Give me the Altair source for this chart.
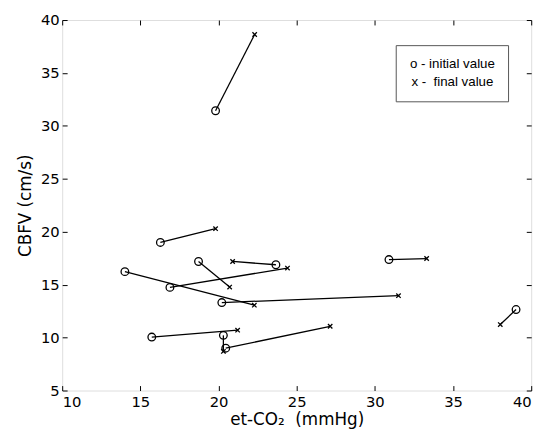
import altair as alt
import pandas as pd

# initial (o) and final (x) values for each subject
x_initial = [19.81, 16.28, 18.72, 23.67, 14.01, 16.89, 20.21, 15.73, 20.31, 20.46, 30.90, 39.03]
y_initial = [31.43, 18.99, 17.19, 16.88, 16.23, 14.74, 13.31, 10.05, 10.21, 9.00, 17.37, 12.65]
x_final = [22.31, 19.81, 20.71, 20.90, 22.29, 24.41, 31.51, 21.22, 20.31, 27.14, 33.31, 38.02]
y_final = [38.63, 20.29, 14.77, 17.19, 13.06, 16.57, 13.96, 10.70, 8.69, 11.07, 17.47, 11.23]

x_ticks = [10, 15, 20, 25, 30, 35, 40]
y_ticks = [5, 10, 15, 20, 25, 30, 35, 40]
legend_lines = ["o - initial value", "x -\u00a0\u00a0final value"]

df = pd.DataFrame({"x0": x_initial, "y0": y_initial, "x1": x_final, "y1": y_final})

FONT = "DejaVu Sans"
LFONT = "Liberation Sans"
W, H = 476, 376

xs = alt.Scale(domain=[10, 40], nice=False, zero=False)
ys = alt.Scale(domain=[5, 40], nice=False, zero=False)

main_x = alt.Axis(values=x_ticks, ticks=False, domain=False, grid=False, labelFont=FONT,
                  labelFontSize=15, labelColor="black", labelPadding=4, labelOverlap=False,
                  title="et-CO\u2082\u00a0\u00a0(mmHg)", titleFont=FONT, titleFontSize=17,
                  titleFontWeight="normal", titleColor="black", titlePadding=3)
main_y = alt.Axis(values=y_ticks, ticks=False, domain=False, grid=False, labelFont=FONT,
                  labelFontSize=15, labelColor="black", labelPadding=3, labelOverlap=False,
                  title="CBFV (cm/s)", titleFont=FONT, titleFontSize=17,
                  titleFontWeight="normal", titleColor="black", titlePadding=6)


def tick_axis(vals, orient):
    return alt.Axis(values=vals, orient=orient, offset=-5, tickSize=5, tickColor="black",
                    tickWidth=1, labels=False, domain=False, grid=False, title="")


lines = alt.Chart(df).mark_rule(color="black", strokeWidth=1.3).encode(
    x=alt.X("x0:Q", scale=xs, axis=main_x),
    y=alt.Y("y0:Q", scale=ys, axis=main_y),
    x2="x1:Q",
    y2="y1:Q",
)

circles = alt.Chart(df).mark_point(shape="circle", size=60, color="black", filled=False,
                                   strokeWidth=1.3, opacity=1).encode(
    x=alt.X("x0:Q", scale=xs, axis=tick_axis(x_ticks, "bottom")),
    y=alt.Y("y0:Q", scale=ys, axis=tick_axis(y_ticks, "left")),
)

crosses = alt.Chart(df).mark_point(shape="M-1,-1L1,1M1,-1L-1,1", size=20, color="black",
                                   filled=False, strokeWidth=1.3, opacity=1).encode(
    x=alt.X("x1:Q", scale=xs, axis=tick_axis(x_ticks, "top")),
    y=alt.Y("y1:Q", scale=ys, axis=tick_axis(y_ticks, "right")),
)

legend_box = alt.Chart(pd.DataFrame({"a": [0]})).mark_rect(
    fill="white", stroke="#555555", strokeWidth=1
).encode(x=alt.value(339), x2=alt.value(453), y=alt.value(26), y2=alt.value(83))

legend_text = alt.Chart(pd.DataFrame({"t": legend_lines, "yy": [45, 63]})).mark_text(
    font=LFONT, fontSize=13.5, color="black", align="center", baseline="middle"
).encode(text="t:N", x=alt.value(396), y=alt.Y("yy:Q", scale=None, axis=None))

chart = alt.layer(lines, circles, crosses, legend_box, legend_text).resolve_axis(
    x="independent", y="independent"
).properties(
    width=W, height=H,
    autosize=alt.AutoSizeParams(type="none"),
    padding={"left": 55, "top": 9, "right": 15, "bottom": 46},
).configure_view(stroke="black", strokeWidth=1.2).configure(background="white")

chart.save("out.html", embed_options={"renderer": "svg", "actions": False})
